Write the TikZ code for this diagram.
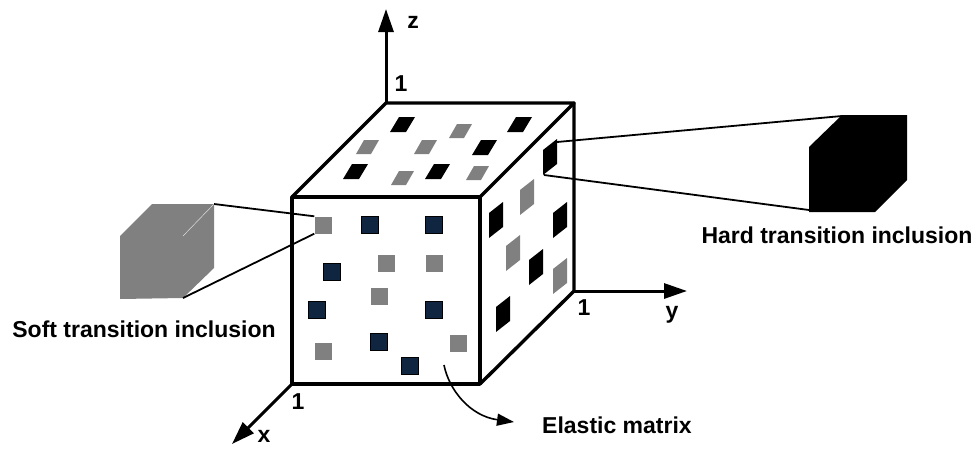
\documentclass[tikz,border=0pt]{standalone}
\usepackage{fontspec}
\setmainfont{Liberation Sans}
\usetikzlibrary{arrows.meta,positioning,calc}
\definecolor{softgray}{HTML}{808080}
\definecolor{navyin}{HTML}{10253F}

\begin{document}
\begin{tikzpicture}[
    x=1pt, y=-1pt,
    edge/.style={line width=3.4pt, line cap=round, line join=round},
    axis/.style={-{Triangle[length=23pt,width=15pt]}, line width=3pt},
    leader/.style={line width=1.8pt},
    lab/.style={font=\bfseries\fontsize{23}{26}\selectfont, inner sep=0pt},
    softsq/.style={fill=softgray, minimum size=17pt, inner sep=0pt},
    hardsq/.style={fill=navyin, draw=black, line width=0.5pt, minimum size=17pt, inner sep=0pt},
]
    \useasboundingbox (0,0) rectangle (977,448);

    % Cube corners
    \coordinate (frontTL) at (292,197);
    \coordinate (frontTR) at (480,197);
    \coordinate (frontBL) at (292,384);
    \coordinate (frontBR) at (480,384);
    \coordinate (backTL) at (386,103);
    \coordinate (backTR) at (574,103);
    \coordinate (backBR) at (574,291);

    % Free ends of the axes
    \coordinate (zend) at (386,9);
    \coordinate (yend) at (687,291);
    \coordinate (xend) at (232,444);

    % Inclusions on the front face
    \node[softsq] (softin) at (323,225) {};
    \foreach \px/\py in {386/263, 434/263, 379/296, 323/351, 458/343}
        \node[softsq] at (\px,\py) {};
    \foreach \px/\py in {370/225, 434/225, 332/272, 317/310, 434/310, 379/342, 410/366}
        \node[hardsq] at (\px,\py) {};

    % Inclusions on the top face
    \foreach \px/\py in {390/132, 507/132, 472/155, 343/179, 425/179}
        \fill[black] (\px,\py) -- ++(16,0) -- ++(9,-15) -- ++(-16,0) -- cycle;
    \foreach \px/\py in {449/138, 356/154, 414/154, 391/185, 466/180}
        \fill[softgray] (\px,\py) -- ++(15,0) -- ++(8,-14) -- ++(-15,0) -- cycle;

    % Inclusions on the right face
    \foreach \px/\py in {489/238, 553/238, 529/285, 496/332, 543/175}
        \fill[black] (\px,\py) -- ++(14,-11) -- ++(0,-25) -- ++(-14,11) -- cycle;
    \foreach \px/\py in {506/271, 553/294, 520/215}
        \fill[softgray] (\px,\py) -- ++(14,-11) -- ++(0,-25) -- ++(-14,11) -- cycle;
    \coordinate (hardinT) at (557,142);
    \coordinate (hardinB) at (544,175);

    % Axes
    \draw[axis] (backTL) -- (zend);
    \draw[axis] (backBR) -- (yend);
    \draw[axis] (frontBL) -- (xend);

    % Cube edges
    \draw[edge] (frontTL) -- (frontTR) -- (frontBR) -- (frontBL) -- cycle;
    \draw[edge] (frontTL) -- (backTL) -- (backTR) -- (frontTR);
    \draw[edge] (backTR) -- (backBR) -- (frontBR);

    % Enlarged soft inclusion
    \coordinate (softTR) at (214,204);
    \coordinate (softBM) at (183,298);
    \fill[softgray] (120,236) -- (152,204) -- (softTR) -- (214,268) -- (softBM) -- (120,299) -- cycle;
    \draw[white!75!softgray, line width=0.5pt] (softTR) -- (183,236);
    \draw[leader] (softTR) -- (softin.north west);
    \draw[leader] (softBM) -- (softin.south west);

    % Enlarged hard inclusion
    \coordinate (hardTL) at (842,116);
    \coordinate (hardBL) at (809,210);
    \fill[black] (809,147) -- (842,115) -- (907,115) -- (907,180) -- (875,212) -- (809,212) -- cycle;
    \draw[leader] (hardTL) -- (hardinT);
    \draw[leader] (hardBL) -- (hardinB);

    % Labels
    \node[lab] (zlab) at (413,22) {z};
    \node[lab] (ylab) at (672,315) {y};
    \node[lab] (xlab) at (264,436) {x};
    \node[lab] (zone) at (401,84) {1};
    \node[lab] (yone) at (584,308) {1};
    \node[lab] (xone) at (298,402) {1};
    \node[lab] (softlab) at (144,329) {Soft transition inclusion};
    \node[lab] (hardlab) at (837,235) {Hard transition inclusion};
    \node[lab] (matrixlab) at (617,425) {Elastic matrix};

    % Pointer to the matrix
    \coordinate (matrixpt) at (444,365);
    \draw[-{Triangle[length=17pt,width=12pt]}, line width=1.6pt] (matrixpt) .. controls (449,390) and (470,416) .. (514,422);
\end{tikzpicture}
\end{document}
